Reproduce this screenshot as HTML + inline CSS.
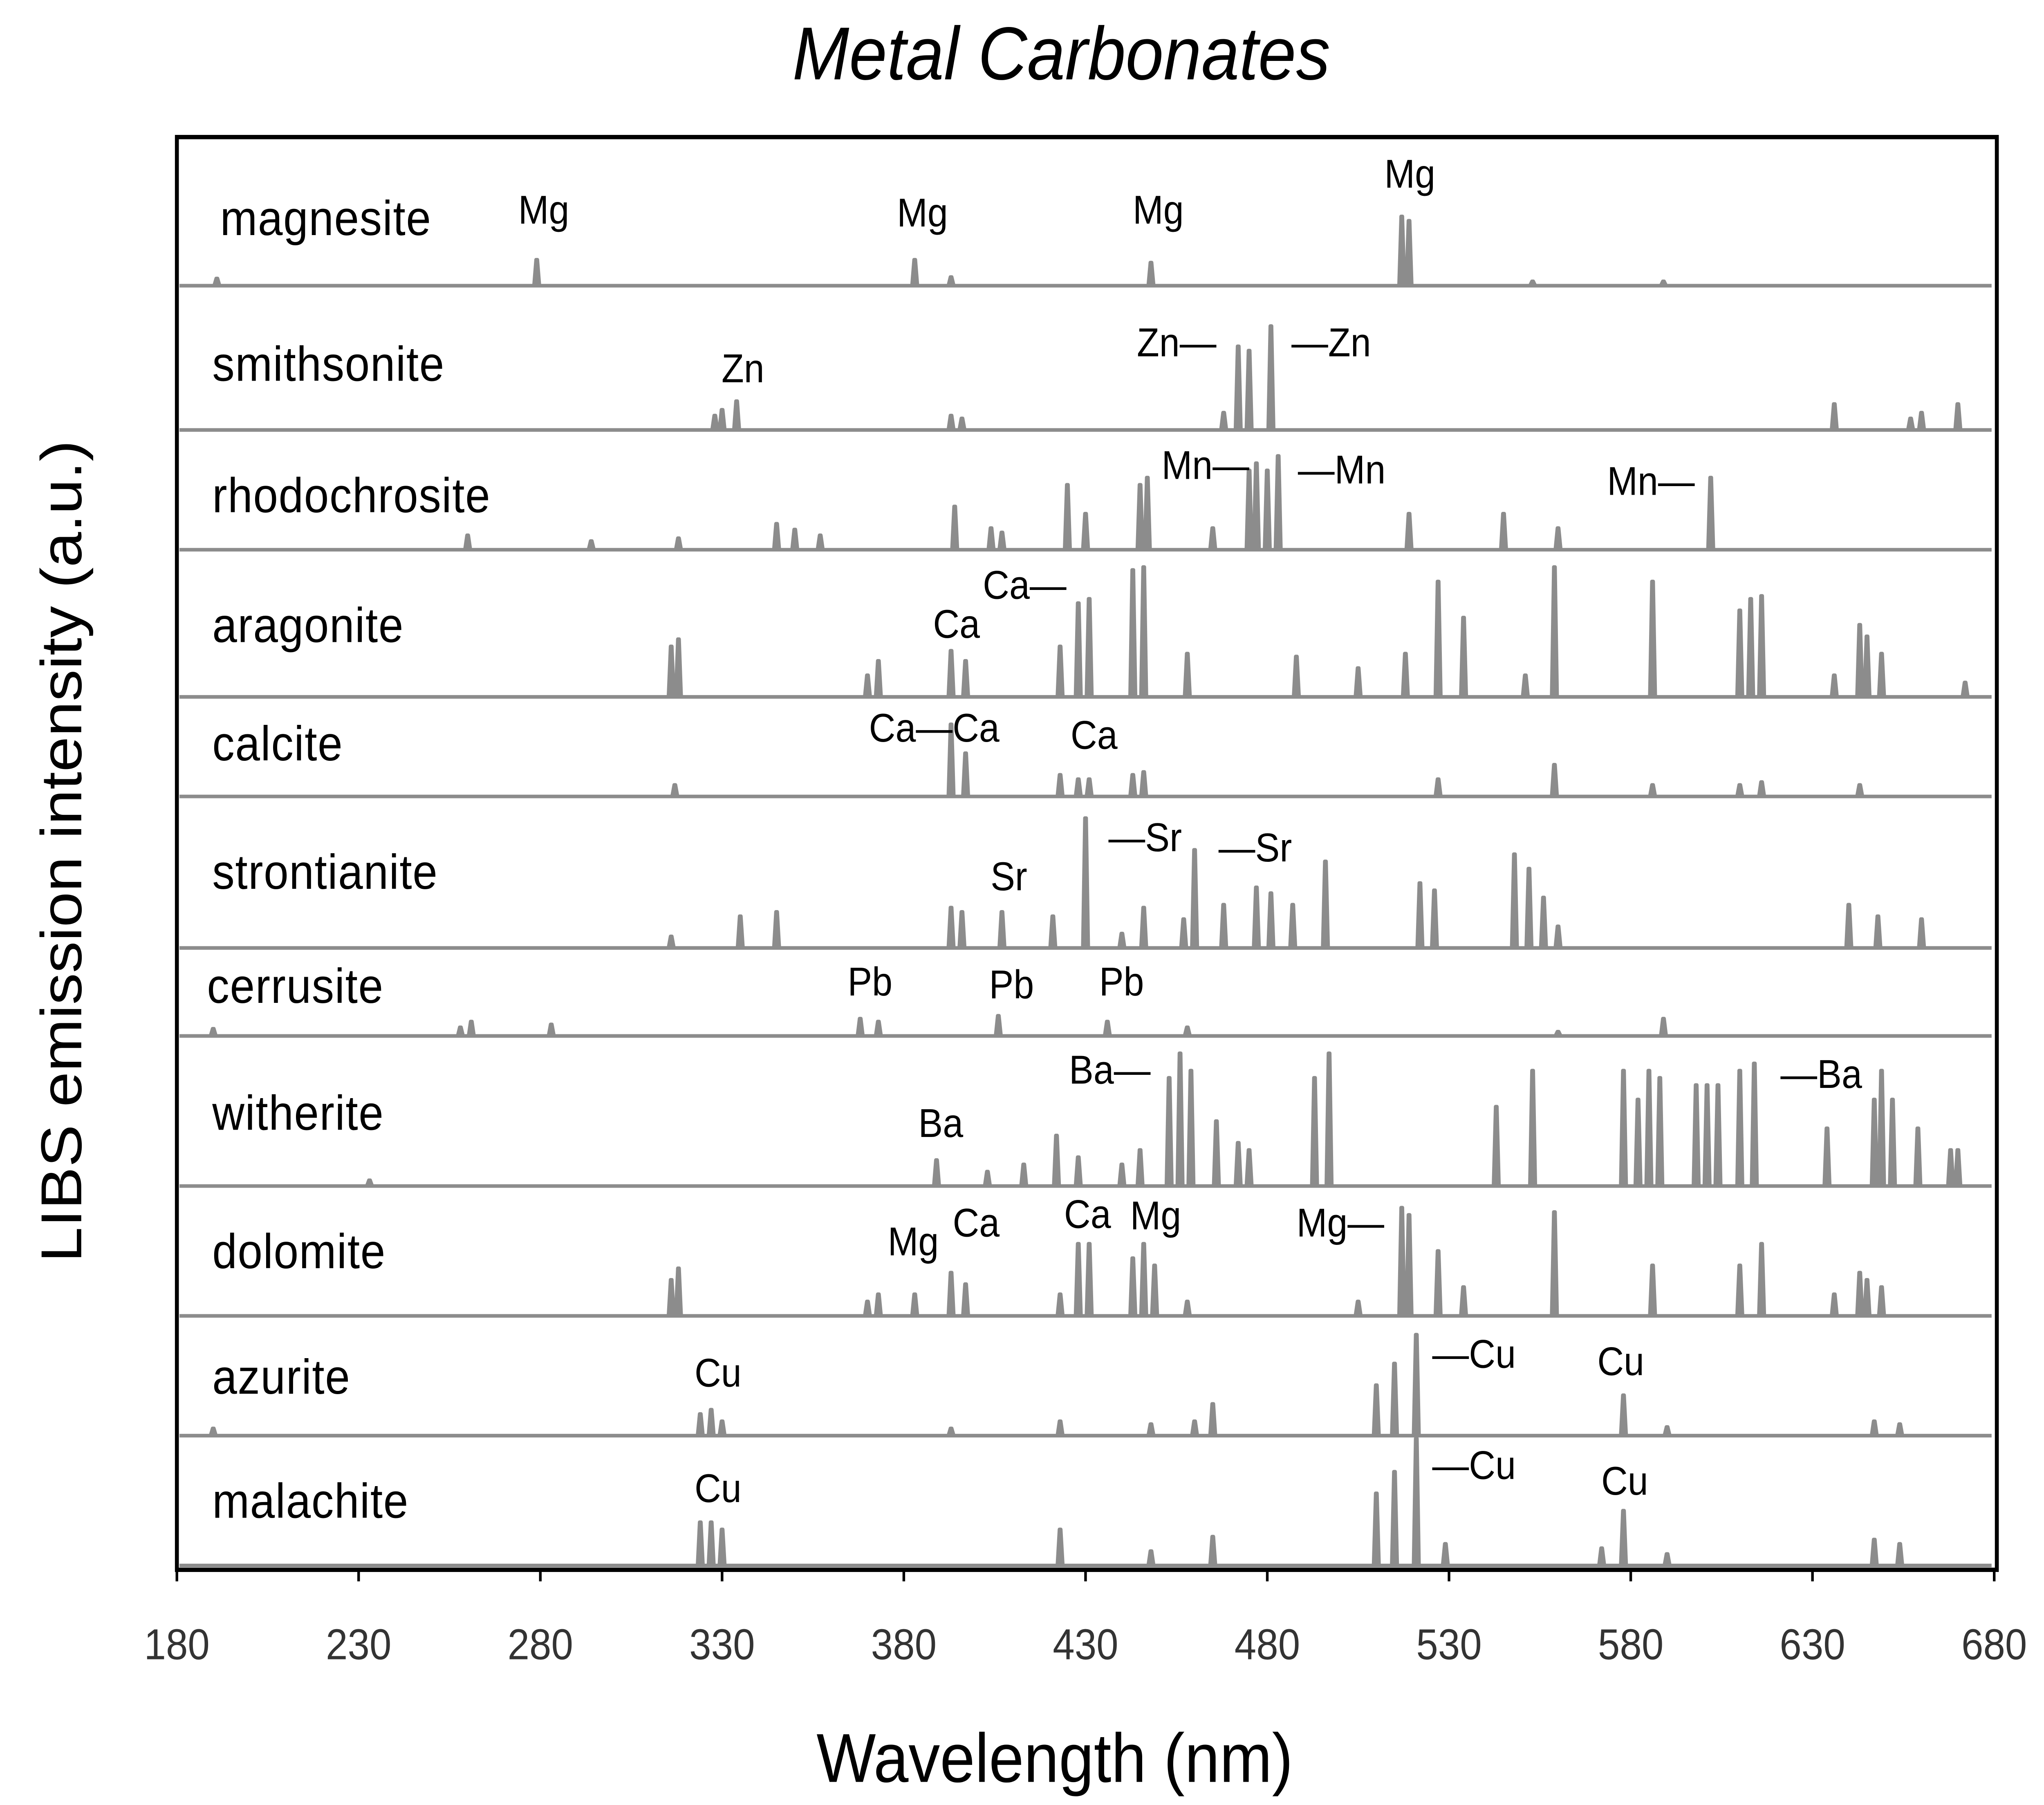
<!DOCTYPE html>
<html><head><meta charset="utf-8"><style>
html,body{margin:0;padding:0;background:#fff;width:100%;height:100%;overflow:hidden}
svg{display:block;position:absolute;left:0;top:0;width:100vw;height:100vh}
</style></head><body>
<svg id="chart" viewBox="0 0 1560 1251" preserveAspectRatio="none" xmlns="http://www.w3.org/2000/svg" font-family="Liberation Sans, sans-serif">
<rect x="0" y="0" width="1560" height="1251" fill="#fff"/>
<text x="810" y="55" font-size="52" font-style="italic" text-anchor="middle">Metal Carbonates</text>
<text transform="translate(62,590) rotate(-90)" font-size="44" text-anchor="middle">LIBS emission intensity (a.u.)</text>
<text x="805" y="1235" font-size="48" text-anchor="middle">Wavelength (nm)</text>
<g id="spectra"></g>
<g id="labels"></g>
<rect x="135" y="95" width="1389" height="993" fill="none" stroke="#000" stroke-width="3"/>
<g id="xticks"></g>
</svg>
<script>
const xTicks = [180,230,280,330,380,430,480,530,580,630,680];
const sampleNames = ["magnesite","smithsonite","rhodochrosite","aragonite","calcite","strontianite","cerrusite","witherite","dolomite","azurite","malachite"];
const baselines = [198,298,381,483,552,657,718,822,912,995,1085];
const nameY = [163,264,355,445,527,616,695,783,879,966,1052];
const peaksMagnesite = [[191,5],[279,18],[383,18],[393,6],[448,16],[517,48],[519,45],[553,3],[589,3]];
const peaksSmithsonite = [[328,10],[330,14],[334,20],[393,10],[396,8],[468,12],[472,58],[475,55],[481,72],[636,18],[657,8],[660,12],[670,18]];
const peaksRhodochrosite = [[260,10],[294,6],[318,8],[345,18],[350,14],[357,10],[394,30],[404,15],[407,12],[425,45],[430,25],[445,45],[447,50],[465,15],[475,55],[477,60],[480,55],[483,65],[519,25],[545,25],[560,15],[602,50]];
const peaksAragonite = [[316,35],[318,40],[370,15],[373,25],[393,32],[397,25],[423,35],[428,65],[431,68],[443,88],[446,90],[458,30],[488,28],[505,20],[518,30],[527,80],[534,55],[551,15],[559,90],[586,80],[610,60],[613,68],[616,70],[636,15],[643,50],[645,42],[649,30],[672,10]];
const peaksCalcite = [[317,8],[393,50],[397,30],[423,15],[428,12],[431,12],[443,15],[446,17],[527,12],[559,22],[586,8],[610,8],[616,10],[643,8]];
const peaksStrontianite = [[316,8],[335,22],[345,25],[393,28],[396,25],[407,25],[421,22],[430,90],[440,10],[446,28],[457,20],[460,68],[468,30],[477,42],[481,38],[487,30],[496,60],[522,45],[526,40],[548,65],[552,55],[556,35],[560,15],[640,30],[648,22],[660,20]];
const peaksCerrusite = [[190,5],[258,6],[261,10],[283,8],[368,12],[373,10],[406,14],[436,10],[458,6],[560,3],[589,12]];
const peaksWitherite = [[233,4],[389,18],[403,10],[413,15],[422,35],[428,20],[440,15],[445,25],[453,75],[456,92],[459,80],[466,45],[472,30],[475,25],[493,75],[497,92],[543,55],[553,80],[578,80],[582,60],[585,80],[588,75],[598,70],[601,70],[604,70],[610,80],[614,85],[634,40],[647,60],[649,80],[652,60],[659,40],[668,25],[670,25]];
const peaksDolomite = [[316,25],[318,33],[370,10],[373,15],[383,15],[393,30],[397,22],[423,15],[428,50],[431,50],[443,40],[446,50],[449,35],[458,10],[505,10],[517,75],[519,70],[527,45],[534,20],[559,72],[586,35],[610,35],[616,50],[636,15],[643,30],[645,25],[649,20]];
const peaksAzurite = [[190,5],[324,15],[327,18],[330,10],[393,5],[423,10],[448,8],[460,10],[465,22],[510,35],[515,50],[521,70],[578,28],[590,6],[647,10],[654,8]];
const peaksMalachite = [[324,30],[327,30],[330,25],[423,25],[448,10],[465,20],[510,50],[515,65],[521,88],[529,15],[572,12],[578,38],[590,8],[647,18],[654,15]];
const allPeaks = [peaksMagnesite,peaksSmithsonite,peaksRhodochrosite,peaksAragonite,peaksCalcite,peaksStrontianite,peaksCerrusite,peaksWitherite,peaksDolomite,peaksAzurite,peaksMalachite];
const elementLabels = [["Mg",415,155],["Mg",704,157],["Mg",884,155],["Mg",1076,130],
["Zn",567,265],["Zn—",898,247],["—Zn",1016,247],
["Mn—",920,332],["—Mn",1024,335],["Mn—",1260,343],
["Ca—",782,415],["Ca",730,442],
["Ca—Ca",713,514],["Ca",835,519],
["Sr",770,617],["—Sr",874,590],["—Sr",958,597],
["Pb",664,690],["Pb",772,692],["Pb",856,690],
["Ba—",847,751],["Ba",718,788],["—Ba",1390,754],
["Mg",697,870],["Ca",745,857],["Ca",830,851],["Mg",882,852],["Mg—",1023,857],
["Cu",548,961],["—Cu",1125,948],["Cu",1237,953],
["Cu",548,1041],["—Cu",1125,1025],["Cu",1240,1036]];
const NS="http://www.w3.org/2000/svg";
const x0=135,x1=1522,w0=180,w1=680;
function xs(w){return x0+(w-w0)/(w1-w0)*(x1-x0);}
function yv(base,h){return base-h;}
const sp=document.getElementById('spectra');
allPeaks.forEach((pk,i)=>{
  const b=baselines[i];
  let d="M"+(x0+2)+" "+b+" L"+(x1-2)+" "+b;
  pk.forEach(p=>{const x=xs(p[0]);d+=" M"+(x-2.2)+" "+b+" L"+(x-0.6)+" "+yv(b,p[1])+" L"+(x+0.6)+" "+yv(b,p[1])+" L"+(x+2.2)+" "+b;});
  const path=document.createElementNS(NS,'path');
  path.setAttribute('d',d);path.setAttribute('stroke','#8c8c8c');path.setAttribute('stroke-width','2.5');path.setAttribute('fill','#8c8c8c');path.setAttribute('stroke-linejoin','round');
  
  
  sp.appendChild(path);
  const t=document.createElementNS(NS,'text');
  t.setAttribute('x',i==6?158:(i==0?168:162));t.setAttribute('y',nameY[i]);t.setAttribute('font-size','34');t.setAttribute('letter-spacing','0.5');
  t.textContent=sampleNames[i];
  
  
  sp.appendChild(t);
});
const lg=document.getElementById('labels');
elementLabels.forEach(l=>{
  const t=document.createElementNS(NS,'text');
  t.setAttribute('x',l[1]);t.setAttribute('y',l[2]);t.setAttribute('font-size','28');t.setAttribute('text-anchor','middle');
  t.textContent=l[0];
  
  
  lg.appendChild(t);
});
const xt=document.getElementById('xticks');
xTicks.forEach(v=>{
  const t=document.createElementNS(NS,'text');
  t.setAttribute('x',xs(v));t.setAttribute('y',1150);t.setAttribute('font-size','30');t.setAttribute('text-anchor','middle');t.setAttribute('fill','#333');
  t.textContent=v;
  
  
  xt.appendChild(t);
  const l=document.createElementNS(NS,'line');
  l.setAttribute('x1',xs(v));l.setAttribute('x2',xs(v));l.setAttribute('y1',1088);l.setAttribute('y2',1096);l.setAttribute('stroke','#000');l.setAttribute('stroke-width','2');
  
  
  xt.appendChild(l);
});
</script>
</body></html>
